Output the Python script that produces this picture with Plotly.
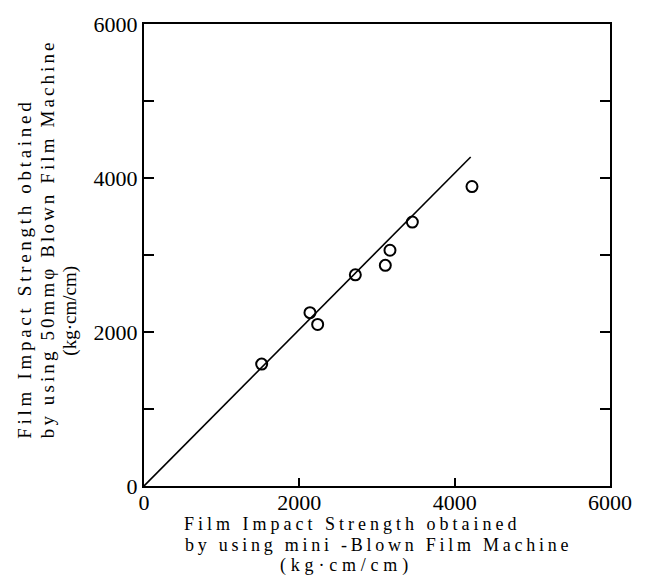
import plotly.graph_objects as go

# Data
mini_x = [1515, 2137, 2236, 2721, 3107, 3167, 3455, 4223]
blown_y = [1583, 2251, 2098, 2742, 2866, 3062, 3428, 3889]
fit_x = [0, 4206]
fit_y = [0, 4273]
tick_vals = [0, 1000, 2000, 3000, 4000, 5000, 6000]
tick_text = ["0", "", "2000", "", "4000", "", "6000"]
x_tick_vals = [0, 2000, 4000, 6000]
x_tick_text = ["0", "2000", "4000", "6000"]

W, H = 651, 585
L, R, T, B = 144, 41, 17, 99
pw, ph = W - L - R, H - T - B

def px(x):
    return (x - L) / pw

def py(y):
    return (H - B - y) / ph

FONT = "Liberation Serif, Times New Roman, serif"

fig = go.Figure()
fig.add_trace(go.Scatter(x=fit_x, y=fit_y, mode="lines",
                         line=dict(color="black", width=1.6),
                         showlegend=False, hoverinfo="skip"))
fig.add_trace(go.Scatter(x=mini_x, y=blown_y, mode="markers",
                         marker=dict(symbol="circle-open", size=11, color="black",
                                     line=dict(width=2, color="black")),
                         showlegend=False))

fig.update_xaxes(range=[0, 6000], tickvals=x_tick_vals, ticktext=x_tick_text,
                 ticks="inside", ticklen=8, tickwidth=2, tickcolor="black",
                 ticklabelstandoff=-4,
                 showline=True, linewidth=2, linecolor="black", mirror=True,
                 showgrid=False, zeroline=False,
                 tickfont=dict(family=FONT, size=22, color="black"))
fig.update_yaxes(range=[0, 6000], tickvals=tick_vals, ticktext=tick_text,
                 ticks="inside", ticklen=10, tickwidth=2, tickcolor="black",
                 showline=True, linewidth=2, linecolor="black", mirror="ticks",
                 showgrid=False, zeroline=False,
                 tickfont=dict(family=FONT, size=22, color="black"))

def sp(t, ls):
    return '<span style="letter-spacing:%spx">%s</span>' % (ls, t)

tfx = dict(family=FONT, size=18, color="black")
tfy = dict(family=FONT, size=19, color="black")
ann = [
    dict(text=sp("Film Impact Strength obtained", 4.0), x=px(182), y=py(525),
         xanchor="left", yanchor="middle", font=tfx),
    dict(text=sp("by using mini -Blown Film Machine", 3.75), x=px(183), y=py(546),
         xanchor="left", yanchor="middle", font=tfx),
    dict(text=sp("(kg·cm/cm)", 4.8), x=px(346), y=py(567),
         xanchor="center", yanchor="middle", font=tfx),
    dict(text=sp("Film Impact Strength obtained", 3.7), x=px(25), y=py(440),
         xanchor="center", yanchor="bottom", textangle=-90, font=tfy),
    dict(text=sp("by using 50mmφ Blown Film Machine", 3.1), x=px(47), y=py(440),
         xanchor="center", yanchor="bottom", textangle=-90, font=tfy),
    dict(text="(kg·cm/cm)", x=px(70), y=py(308),
         xanchor="center", yanchor="middle", textangle=-90, font=tfy),
]
for a in ann:
    fig.add_annotation(xref="paper", yref="paper", showarrow=False, **a)

fig.update_layout(width=W, height=H, margin=dict(l=L, r=R, t=T, b=B),
                  paper_bgcolor="white", plot_bgcolor="white")

fig.write_html("out.html")
